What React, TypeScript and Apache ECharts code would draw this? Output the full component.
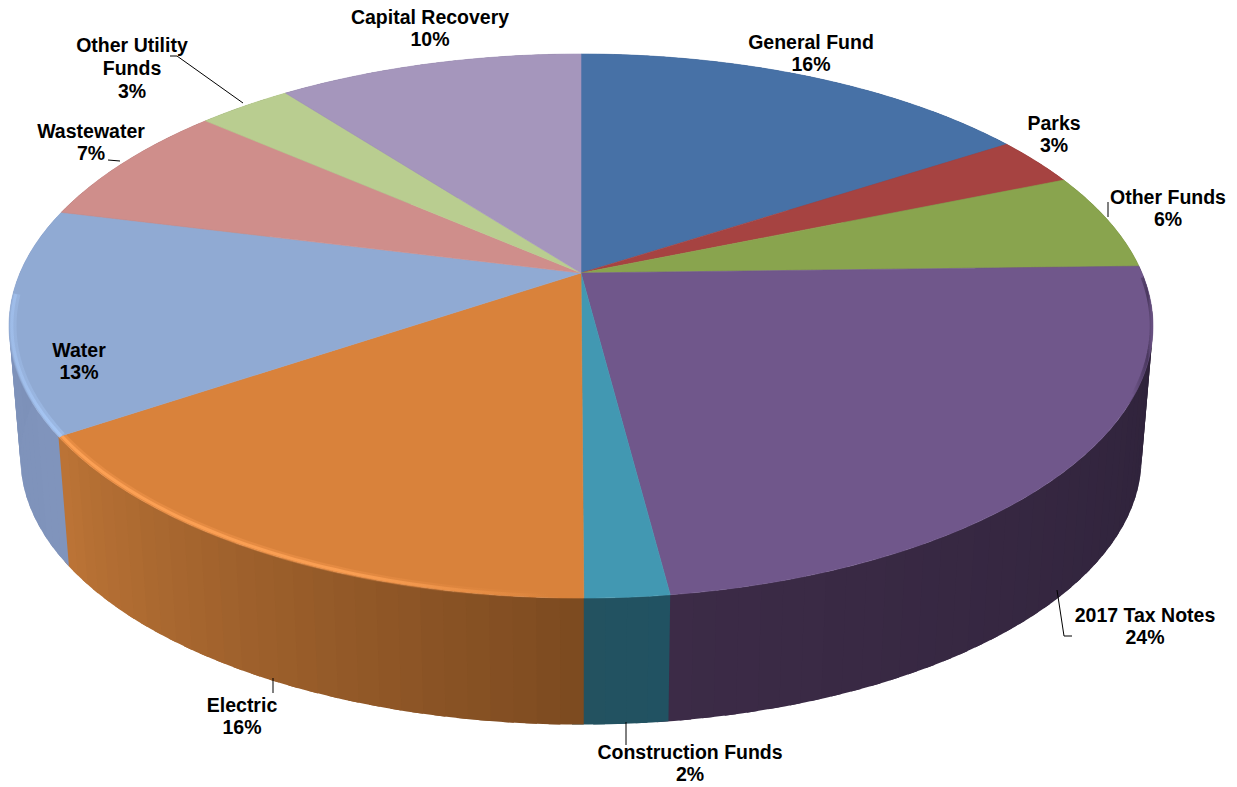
import React, { useEffect, useRef } from "react";
import * as echarts from "echarts";

// Funding sources, clockwise from twelve o'clock, as percentages of the total.
const categories = [
  "General Fund",
  "Parks",
  "Other Funds",
  "2017 Tax Notes",
  "Construction Funds",
  "Electric",
  "Water",
  "Wastewater",
  "Other Utility Funds",
  "Capital Recovery",
];
const shares = [16, 3, 6, 24, 2, 16, 13, 7, 3, 10];

const topColors = [
  "#4771A6", "#A64341", "#89A44E", "#70578B", "#4298B2",
  "#D9823B", "#90AAD3", "#CF8E8B", "#B9CD90", "#A596BC",
];
// Side colour at the clockwise start and end of each slice.
const wallColors: [number[], number[]][] = [
  [[52, 80, 122], [52, 80, 122]], [[122, 48, 46], [122, 48, 46]], [[100, 120, 58], [100, 120, 58]],
  [[44, 33, 56], [60, 43, 71]], [[33, 82, 98], [35, 82, 96]], [[124, 74, 32], [188, 116, 54]],
  [[128, 148, 188], [124, 144, 184]], [[152, 104, 106], [152, 104, 106]], [[136, 152, 104], [136, 152, 104]],
  [[120, 110, 140], [120, 110, 140]],
];

// Projection of the flat disc onto the page (a tilted view with perspective).
const CX = 581;
const CY = 273;
const SPREAD_X = 561;
const SPREAD_Y = 261.7;
const PERSPECTIVE = 0.195;
const FLOOR_SCALE = 0.98;
const FLOOR_DROP = 133;
// The camera sits a little off-axis, which pulls the near and left edges of the disc sideways.
const SKEW_NEAR_DEG = 3.8;
const SKEW_SIDE_DEG = 0.4;
const SKEW_LEFT_DEG = 2.5;
const FACET_DEG = 2;
const FACET_OVERLAP_DEG = 1;

const project = (deg: number, r = 1, floor = false): number[] => {
  const raw = (deg * Math.PI) / 180;
  const s = Math.sin(raw);
  const seen =
    deg -
    (SKEW_NEAR_DEG * (1 - Math.cos(raw))) / 2 +
    SKEW_SIDE_DEG * s -
    (s < 0 ? SKEW_LEFT_DEG * s * s : 0);
  const t = (seen * Math.PI) / 180;
  const w = 1 + PERSPECTIVE * Math.cos(t);
  const dx = (r * SPREAD_X * Math.sin(t)) / w;
  const dy = (-r * SPREAD_Y * Math.cos(t)) / w;
  return floor
    ? [CX + FLOOR_SCALE * dx, CY + FLOOR_SCALE * dy + FLOOR_DROP]
    : [CX + dx, CY + dy];
};

const total = shares.reduce((a, b) => a + b, 0);
const startDeg = (i: number) =>
  (shares.slice(0, i).reduce((a, b) => a + b, 0) / total) * 360;

const arc = (from: number, to: number, r = 1, floor = false): number[][] => {
  const n = Math.max(2, Math.ceil(Math.abs(to - from)));
  const pts: number[][] = [];
  for (let k = 0; k <= n; k++) pts.push(project(from + ((to - from) * k) / n, r, floor));
  return pts;
};

const horizontal = (stops: [number, string][]) =>
  new echarts.graphic.LinearGradient(0, 0, 1, 0, stops.map(([offset, color]) => ({ offset, color })));

// Outer side of each slice, built from narrow overlapping facets so the silhouette
// stays correct where the side turns away; the rear ones end up hidden under the top faces.
const renderWall = (params: any) => {
  const i = params.dataIndex;
  const a = startDeg(i);
  const b = startDeg(i + 1);
  const [c0, c1] = wallColors[i];
  const n = Math.max(1, Math.ceil((b - a) / FACET_DEG));
  const children: any[] = [];
  for (let k = 0; k < n; k++) {
    const u = a + ((b - a) * k) / n;
    const v = a + ((b - a) * (k + 1)) / n + FACET_OVERLAP_DEG;
    const f = (k + 0.5) / n;
    const rgb = c0.map((c, j) => Math.round(c + (c1[j] - c) * f));
    children.push({
      type: "polygon",
      shape: { points: [project(u), project((u + v) / 2), project(v), project(v, 1, true), project((u + v) / 2, 1, true), project(u, 1, true)] },
      style: { fill: `rgb(${rgb.join(",")})` },
    });
  }
  return { type: "group", children };
};

// Lit and shaded bands along the rim of the top face.
const rimBands: Record<string, { from: number; to: number; stops: [number, string][]; width: number; r: number }[]> = {
  Electric: [
    { from: 0.05, to: 1, stops: [[0, "rgba(250,155,80,0.4)"], [0.55, "rgba(250,155,80,0.35)"], [1, "rgba(250,155,80,0)"]], width: 7, r: 0.993 },
    { from: 0.05, to: 1, stops: [[0, "rgba(252,160,84,1)"], [0.6, "rgba(252,160,84,0.9)"], [1, "rgba(252,160,84,0)"]], width: 3, r: 0.994 },
  ],
  Water: [
    { from: 0, to: 0.62, stops: [[0, "rgba(166,198,244,0.3)"], [1, "rgba(166,198,244,0.5)"]], width: 7, r: 0.993 },
    { from: 0, to: 0.62, stops: [[0, "rgba(166,198,244,0.5)"], [1, "rgba(166,198,244,1)"]], width: 3, r: 0.995 },
  ],
  "2017 Tax Notes": [
    { from: 0.03, to: 0.32, stops: [[0, "rgba(50,36,66,0.05)"], [0.8, "rgba(50,36,66,0.6)"], [1, "rgba(50,36,66,0.15)"]], width: 3, r: 0.997 },
  ],
};

const renderTop = (params: any) => {
  const i = params.dataIndex;
  const a = startDeg(i);
  const b = startDeg(i + 1);
  const color = topColors[i];
  const children: any[] = [
    {
      type: "polygon",
      shape: { points: [[CX, CY], ...arc(a, b)] },
      style: { fill: color, stroke: color, lineWidth: 0.6 },
    },
  ];
  (rimBands[categories[i]] || []).forEach((band) => {
    children.push({
      type: "polyline",
      shape: { points: arc(a + (b - a) * band.from, a + (b - a) * band.to, band.r) },
      style: { fill: "none", stroke: horizontal(band.stops), lineWidth: band.width, lineCap: "butt" },
    });
  });
  return { type: "group", children };
};

// Label anchors and their leader lines, in page pixels.
const labelLayout: { x: number; y: number; lines: string[]; leader?: number[][] }[] = [
  { x: 811, y: 53, lines: ["General Fund"] },
  { x: 1054, y: 134, lines: ["Parks"] },
  { x: 1168, y: 208, lines: ["Other Funds"], leader: [[1108, 202], [1108, 217]] },
  { x: 1145, y: 626, lines: ["2017 Tax Notes"], leader: [[1057, 590], [1064, 636], [1072, 636]] },
  { x: 690, y: 763, lines: ["Construction Funds"], leader: [[626, 722], [626, 745]] },
  { x: 242, y: 716, lines: ["Electric"], leader: [[273, 678], [273, 693]] },
  { x: 79, y: 361, lines: ["Water"] },
  { x: 91, y: 142, lines: ["Wastewater"], leader: [[108, 160], [120, 161]] },
  { x: 132, y: 68, lines: ["Other Utility", "Funds"], leader: [[170, 56], [177, 56], [243, 103]] },
  { x: 430, y: 28, lines: ["Capital Recovery"] },
];

const renderLabel = (params: any) => {
  const i = params.dataIndex;
  const slot = labelLayout[i];
  const children: any[] = [
    {
      type: "text",
      x: slot.x,
      y: slot.y,
      style: {
        text: [...slot.lines, `${shares[i]}%`].join("\n"),
        fontFamily: '"Liberation Sans", Arial, sans-serif',
        fontWeight: "bold",
        fontSize: 19.5,
        lineHeight: 22.7,
        fill: "#000000",
        align: "center",
        verticalAlign: "middle",
      },
    },
  ];
  if (slot.leader) {
    children.push({
      type: "polyline",
      shape: { points: slot.leader },
      style: { fill: "none", stroke: "#000000", lineWidth: 1 },
    });
  }
  return { type: "group", children };
};

const sliceData = categories.map((name, i) => ({ name, value: [shares[i]] }));

export default function App() {
  const ref = useRef<HTMLDivElement>(null);
  useEffect(() => {
    const chart = echarts.init(ref.current!, undefined, { renderer: "svg" });
    chart.setOption({
      animation: false,
      backgroundColor: "#ffffff",
      tooltip: { show: false },
      series: [
        { type: "custom", coordinateSystem: "none", z: 1, silent: true, data: sliceData, renderItem: renderWall },
        { type: "custom", coordinateSystem: "none", z: 2, silent: true, data: sliceData, renderItem: renderTop },
        { type: "custom", coordinateSystem: "none", z: 3, silent: true, data: sliceData, renderItem: renderLabel },
      ],
    });
    return () => chart.dispose();
  }, []);
  return <div ref={ref} style={{ position: "absolute", left: 0, top: 0, width: 1237, height: 787 }} />;
}
